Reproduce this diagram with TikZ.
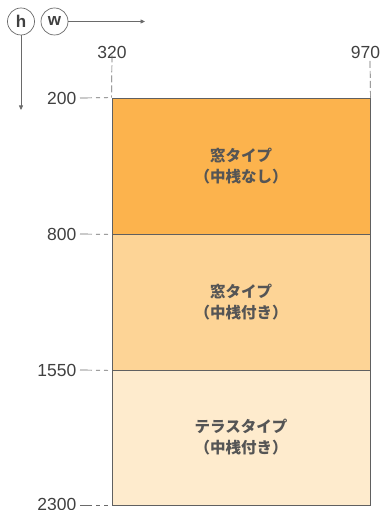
\documentclass[tikz,border=0pt]{standalone}
\usepackage{fontspec}
\setmainfont{Liberation Sans}
\newfontfamily\jp{Noto Sans CJK JP}
\usetikzlibrary{arrows.meta}
\definecolor{cA}{HTML}{FCB34D}
\definecolor{cB}{HTML}{FDD496}
\definecolor{cC}{HTML}{FEEBCD}
\definecolor{txt}{HTML}{555555}
\definecolor{edge}{HTML}{606060}
\definecolor{dgray}{HTML}{6A6A6A}
\tikzset{
  box/.style={draw=edge, line width=0.8pt, minimum width=258pt, minimum height=136pt, inner sep=0pt, align=center, text=txt, font=\jp\bfseries\fontsize{15.5}{21}\selectfont},
  num/.style={inner sep=0pt, text=black!75, font=\fontsize{17.5}{18}\selectfont},
  hdash/.style={draw=dgray, line width=0.7pt, dash pattern=on 12pt off 4pt on 4pt off 4pt on 4pt off 4pt},
  vdash/.style={draw=dgray, line width=0.7pt, dash pattern=on 7pt off 3pt},
  circ/.style={circle, draw=dgray, line width=0.7pt, minimum size=27pt, inner sep=0pt, text=black!75, font=\bfseries\fontsize{17}{18}\selectfont},
  axis/.style={draw=dgray, line width=0.7pt, -{Triangle[length=4.5pt,width=4pt]}}
}
\begin{document}
\begin{tikzpicture}[x=1pt,y=-1pt]
\useasboundingbox (0,0) rectangle (381,510);
% boxes
\node[box, fill=cA] (b1) at (241,166) {窓タイプ\\（中桟なし）};
\node[box, fill=cB] (b2) at (241,302) {窓タイプ\\（中桟付き）};
\node[box, fill=cC, minimum height=135pt] (b3) at (241,437.5) {テラスタイプ\\（中桟付き）};
% axis circles
\node[circ] (h) at (21,21.5) {h};
\node[circ] (w) at (54.5,21.5) {w};
\coordinate (hend) at (21,110);
\coordinate (wend) at (145,21.5);
\draw[axis] (h.south) -- (hend);
\draw[axis] (w.east) -- (wend);
% top labels
\node[num] (t320) at (112,52) {320};
\node[num] (t970) at (365.5,52) {970};
\coordinate (v970) at (370,61);
\draw[vdash] ([yshift=3pt]t320.south) -- (b1.north west);
\draw[vdash] (v970) -- (b1.north east);
% left labels
\node[num, anchor=east] (l200) at (76.5,98) {200};
\node[num, anchor=east] (l800) at (76.5,234) {800};
\node[num, anchor=east] (l1550) at (76.5,370) {1550};
\node[num, anchor=east] (l2300) at (76.5,504) {2300};
\draw[hdash] ([xshift=3.5pt]l200.east) -- (b1.north west);
\draw[hdash] ([xshift=3.5pt]l800.east) -- (b1.south west);
\draw[hdash] ([xshift=3.5pt]l1550.east) -- (b2.south west);
\draw[hdash] ([xshift=3.5pt]l2300.east |- b3.south west) -- (b3.south west);
\end{tikzpicture}
\end{document}
